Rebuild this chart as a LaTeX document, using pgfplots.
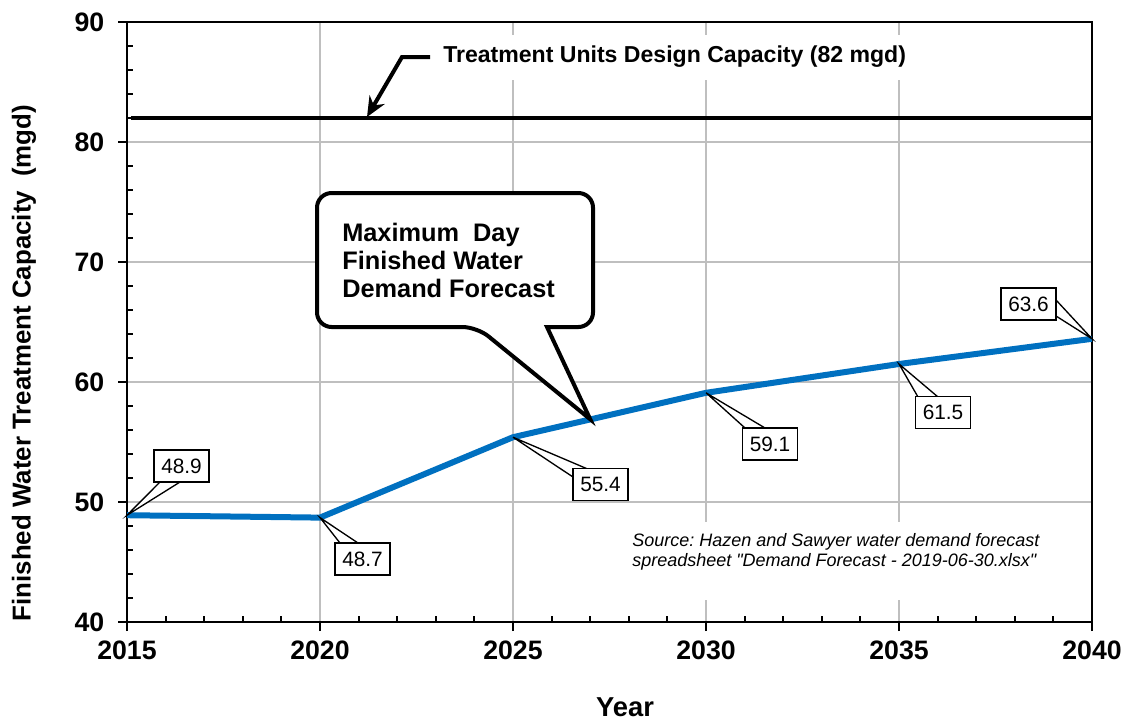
\documentclass[border=0pt]{standalone}
\usepackage{pgfplots}
\pgfplotsset{compat=1.18}
\usepackage{fontspec}
\setmainfont{Liberation Sans}[Ligatures=TeXOff]
\usetikzlibrary{arrows.meta}
\definecolor{xlblue}{HTML}{0070C0}
\definecolor{gridgray}{HTML}{BFBFBF}
\frenchspacing

\begin{document}
\begin{tikzpicture}
\begin{axis}[
  at={(95.25pt,-466.5pt)}, anchor=south west,
  scale only axis, width=723.75pt, height=450pt,
  xmin=2015, xmax=2040, ymin=40, ymax=90,
  xtick={2015,2020,...,2040}, xticklabels={2015,2020,2025,2030,2035,2040},
  ytick={40,50,...,90}, yticklabels={40,50,60,70,80,90},
  minor x tick num=4, minor y tick num=4,
  tick align=inside, major tick length=0pt, minor tick length=4.3pt,
  xtick pos=bottom, ytick pos=left,
  tick style={black, line width=1.5pt},
  grid=major, major grid style={gridgray, line width=1.1pt},
  axis line style={black, line width=1.5pt},
  ticklabel style={font=\fontsize{20}{24}\selectfont\bfseries},
  xticklabel style={yshift=-10.5pt},
  yticklabel style={xshift=-13.5pt},
  extra x ticks={2015,2020,...,2040}, extra x tick labels={},
  extra y ticks={40,50,...,90}, extra y tick labels={},
  extra x tick style={tick align=outside, major tick length=6.75pt, grid=none},
  extra y tick style={tick align=outside, major tick length=6.75pt, grid=none},
]
\addplot[black, line width=3pt] coordinates {(2015.1,82) (2040,82)};
\addplot[xlblue, line width=4.5pt] coordinates {
  (2015,48.9) (2020,48.7) (2025,55.4) (2030,59.1) (2035,61.5) (2040,63.6)
};
\coordinate (p1) at (axis cs:2015,48.9);
\coordinate (p2) at (axis cs:2020,48.7);
\coordinate (p3) at (axis cs:2025,55.4);
\coordinate (p4) at (axis cs:2030,59.1);
\coordinate (p5) at (axis cs:2035,61.5);
\coordinate (p6) at (axis cs:2040,63.6);
\coordinate (tip) at (axis cs:2027,56.9);
\end{axis}

\begin{scope}[x=0.75pt,y=-0.75pt]
\path[use as bounding box] (0,0) rectangle (1130,722);

% design capacity label
\fill[white] (435,35) rectangle (915,80);
\node[anchor=west, inner sep=0pt, font=\fontsize{17.3}{20}\selectfont\bfseries] at (443,57)
  {Treatment Units Design Capacity (82 mgd)};
\draw[line width=3pt, -{Stealth[length=15pt,width=13pt]}] (430,57) -- (402,57) -- (367,117);

% forecast callout
\filldraw[fill=white, draw=black, line width=3pt, rounded corners=11pt]
  (455,193) -- (317,193) -- (317,327) -- (477,327) [sharp corners] -- (tip)
  -- (547,327) [rounded corners=11pt] -- (593,327) -- (593,193) -- cycle;
\node[anchor=west, align=left, inner sep=0pt, font=\fontsize{19}{21}\selectfont\bfseries] at (342,260)
  {Maximum\ \ Day\\Finished Water\\Demand Forecast};

% data labels
\tikzset{lbl/.style={draw=black, fill=white, line width=1.1pt, inner sep=0pt,
  minimum width=41.25pt, minimum height=24pt, font=\fontsize{15.6}{18}\selectfont},
  wedge/.style={fill=white, draw=black, line width=1pt}}
\filldraw[wedge] (p1) -- (160,482) -- (180,482) -- cycle;
\node[lbl] at (181.5,466) {48.9};
\filldraw[wedge] (p2) -- (340,543) -- (358,543) -- cycle;
\node[lbl] at (362.5,559) {48.7};
\filldraw[wedge] (p3) -- (573,477) -- (590,470) -- cycle;
\node[lbl] at (600.5,484.5) {55.4};
\filldraw[wedge] (p4) -- (745,428) -- (765,428) -- cycle;
\node[lbl] at (770,444) {59.1};
\filldraw[wedge] (p5) -- (918,397) -- (938,397) -- cycle;
\node[lbl] at (943,412.5) {61.5};
\filldraw[wedge] (p6) -- (1056,300) -- (1056,316) -- cycle;
\node[lbl] at (1028.5,304) {63.6};

% source note
\fill[white] (622,522) rectangle (1045,600);
\node[anchor=west, align=left, inner sep=0pt, font=\fontsize{13.5}{14.6}\selectfont\itshape] at (632,552)
  {Source: Hazen and Sawyer water demand forecast\\spreadsheet "Demand Forecast - 2019-06-30.xlsx"};

% axis titles
\node[rotate=90, font=\fontsize{19.4}{22}\selectfont\bfseries] at (24,363)
  {Finished Water Treatment Capacity\ \ (mgd)};
\node[font=\fontsize{20.5}{24}\selectfont\bfseries] at (625,707) {Year};
\end{scope}
\end{tikzpicture}
\end{document}
